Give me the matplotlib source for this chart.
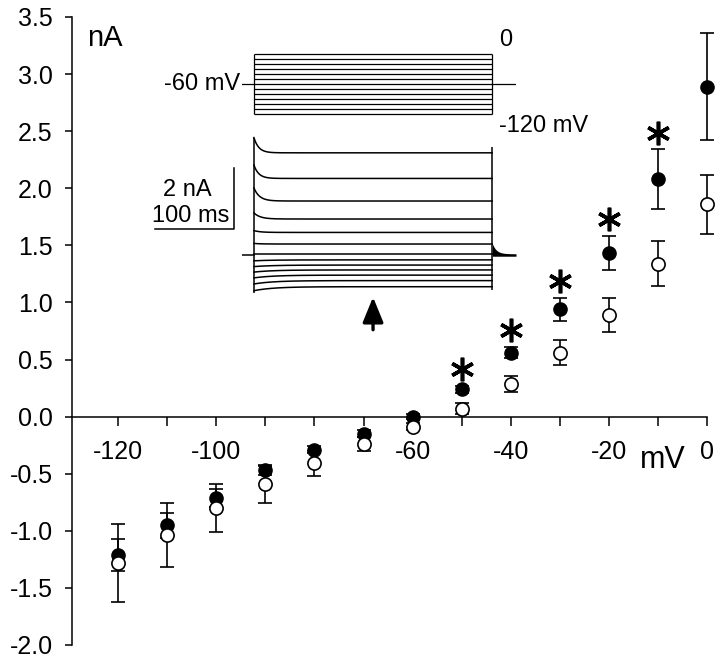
import numpy as np
import matplotlib
matplotlib.use("Agg")
import matplotlib.pyplot as plt

plt.rcParams['font.family'] = ['Liberation Sans', 'DejaVu Sans']
plt.rcParams['axes.unicode_minus'] = False

# I-V data (mV, nA)
volts = [-120, -110, -100, -90, -80, -70, -60, -50, -40, -30, -20, -10, 0]
filled_mean = [-1.21, -0.95, -0.71, -0.47, -0.29, -0.15, 0.00, 0.24, 0.56, 0.94, 1.43, 2.08, 2.89]
filled_err = [0.14, 0.11, 0.08, 0.04, 0.03, 0.03, 0.02, 0.03, 0.05, 0.10, 0.15, 0.26, 0.47]
open_mean = [-1.28, -1.04, -0.80, -0.59, -0.41, -0.24, -0.09, 0.07, 0.29, 0.56, 0.89, 1.34, 1.86]
open_err = [0.34, 0.28, 0.21, 0.17, 0.11, 0.06, 0.03, 0.05, 0.07, 0.11, 0.15, 0.20, 0.26]

# significance marks
star_volts = [-50, -40, -30, -20, -10]
star_y = [0.42, 0.76, 1.19, 1.73, 2.48]

# x tick labels shown on the axis
x_labels = {-120: '-120', -100: '-100', -60: '-60', -40: '-40', -20: '-20', 0: '0'}

# inset: voltage protocol (mV) and current traces (nA)
step_levels = [0, -10, -20, -30, -40, -50, -60, -70, -80, -90, -100, -110, -120]
hold_mv = -60
step_ms = 300
trace_ss = [3.35, 2.51, 1.77, 1.18, 0.74, 0.36, 0.03, -0.16, -0.33, -0.49, -0.66, -0.84, -1.04]
trace_amp = [0.50, 0.44, 0.43, 0.20, 0.06, 0.02, 0.0, -0.03, -0.05, -0.07, -0.09, -0.11, -0.13]
trace_tau = [6, 6, 7, 8, 8, 8, 8, 25, 25, 25, 25, 25, 25]

W, H = 720, 659
fig = plt.figure(figsize=(W / 100, H / 100), dpi=100)


def px_rect(l, t, r, b):
    return [l / W, 1 - b / H, (r - l) / W, (b - t) / H]


# ---- main I-V axes
ax = fig.add_axes(px_rect(72, 17, 717, 645))
ax.set_xlim(-129.4, 2)
ax.set_ylim(-2.0, 3.5)
for s in ['top', 'right']:
    ax.spines[s].set_visible(False)
ax.spines['bottom'].set_position(('data', 0))
ax.spines['bottom'].set_bounds(-129.4, 0)
for s in ['left', 'bottom']:
    ax.spines[s].set_linewidth(1.1)

xt = list(range(-120, 1, 10))
ax.set_xticks(xt)
ax.set_xticklabels([x_labels.get(v, '') for v in xt])
yt = np.arange(-2.0, 3.51, 0.5)
ax.set_yticks(yt)
ax.set_yticklabels(['%.1f' % v for v in yt])
ax.tick_params(axis='x', direction='out', length=6.5, width=1.1, pad=10, labelsize=18)
ax.tick_params(axis='y', direction='out', length=5, width=1.1, pad=9, labelsize=18)

ax.errorbar(volts, filled_mean, yerr=filled_err, fmt='o', color='black',
            ms=9.5, capsize=4.7, elinewidth=1.2, capthick=1.2, clip_on=False, zorder=3)
ax.errorbar(volts, open_mean, yerr=open_err, fmt='o', color='black', mfc='white',
            mec='black', mew=1.2, ms=9.5, capsize=4.7, elinewidth=1.2, capthick=1.2,
            clip_on=False, zorder=4)
ax.plot(star_volts, star_y, ls='none', marker=(6, 2, 0), ms=17, mew=2.6,
        color='black', clip_on=False)

ax.text(-126.3, 3.32, 'nA', fontsize=21, ha='left', va='center')
ax.text(-13.6, -0.38, 'mV', fontsize=22, ha='left', va='center')

# ---- inset: voltage protocol
axv = fig.add_axes(px_rect(242, 51.5, 516, 116.5))
axv.set_xlim(-15, 330)
axv.set_ylim(-125, 5)
axv.axis('off')
axv.hlines(step_levels, 0, step_ms, color='black', lw=0.9)
axv.vlines([0, step_ms], min(step_levels), max(step_levels), color='black', lw=0.9)
axv.plot([-15, 0], [hold_mv, hold_mv], color='black', lw=0.9)
axv.plot([step_ms, 330], [hold_mv, hold_mv], color='black', lw=0.9)
axv.text(-17, hold_mv, '-60 mV', fontsize=17, ha='right', va='center')
axv.text(309, 28, '0', fontsize=17, ha='left', va='center')
axv.text(309, -144, '-120 mV', fontsize=17, ha='left', va='center')

# ---- inset: current traces
axi = fig.add_axes(px_rect(242, 133, 516, 303.8))
axi.set_xlim(-15, 330)
axi.set_ylim(-1.6, 4.0)
axi.axis('off')
t = np.linspace(0, step_ms, 400)
for ss, a, tau in zip(trace_ss, trace_amp, trace_tau):
    axi.plot(t, ss + a * np.exp(-t / tau), color='black', lw=1.1)
peaks = [s + a for s, a in zip(trace_ss, trace_amp)]
axi.vlines(0, -1.25, max(peaks), color='black', lw=1.1)
axi.vlines(step_ms, min(trace_ss) - 0.1, max(trace_ss) + 0.2, color='black', lw=1.1)
axi.plot([-15, 0], [0, 0], color='black', lw=1.1)
tt = np.linspace(step_ms, 330, 60)
axi.fill_between(tt, -0.04, 0.04 + 0.35 * np.exp(-(tt - step_ms) / 5), color='black', lw=0)

# scale bar
sb_t, sb_i = -25, 0.85
axi.plot([sb_t - 100, sb_t, sb_t], [sb_i, sb_i, sb_i + 2], color='black', lw=1.1, clip_on=False)
axi.text(sb_t - 59, sb_i + 1.28, '2 nA', fontsize=17, ha='center', va='center')
axi.text(sb_t - 55, sb_i + 0.43, '100 ms', fontsize=17, ha='center', va='center')

# arrow marking measurement time
axi.annotate('', xy=(150, -1.38), xytext=(150, -2.45),
             arrowprops=dict(arrowstyle='-|>,head_width=0.45,head_length=1.1',
                             lw=2.4, color='black', mutation_scale=14,
                             shrinkA=0, shrinkB=0),
             annotation_clip=False)

fig.savefig('out.png', dpi=100)
